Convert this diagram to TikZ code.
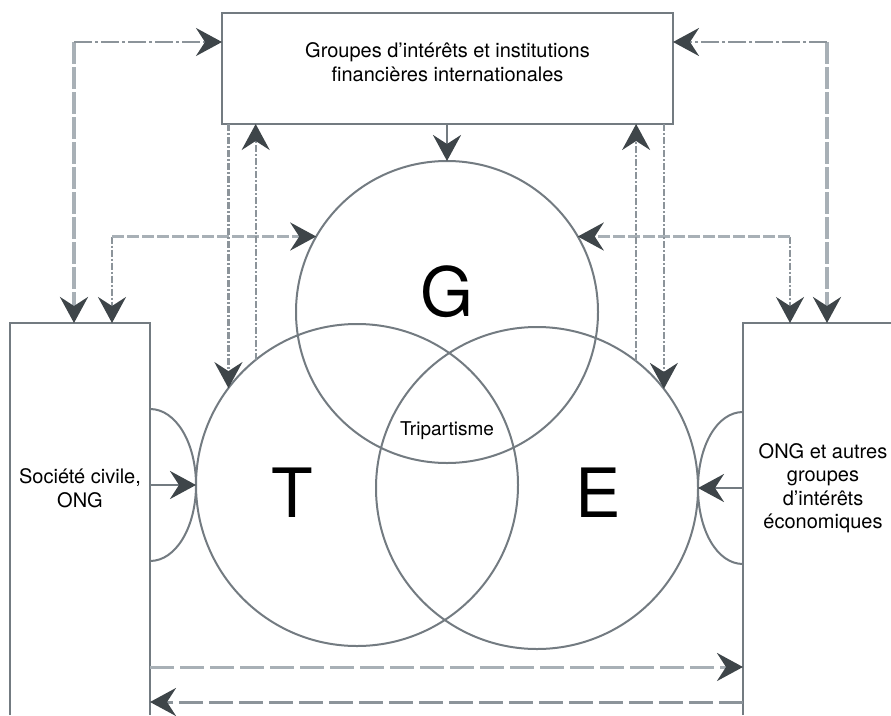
\documentclass[tikz,border=0pt]{standalone}
\usepackage{fontspec}
\setmainfont{TeX Gyre Heros}
\usetikzlibrary{arrows.meta}

\definecolor{linegray}{HTML}{737B81}
\definecolor{dashgray}{HTML}{8C949A}
\definecolor{palegray}{HTML}{A8B0B6}
\definecolor{tipgray}{HTML}{3E4549}

\tikzset{
	head/.tip={Stealth[length=26pt,width=28pt,inset=9pt,color=tipgray]},
	onehead/.style={-head},
	twoheads/.style={head-head}
}

\begin{document}
\begin{tikzpicture}[x=1pt,y=-1pt,
	frame/.style={draw=linegray,line width=2.8pt,inner sep=0pt,outer sep=0pt},
	ring/.style={circle,draw=linegray,line width=2pt,inner sep=0pt,outer sep=0pt},
	edge/.style={linegray,line width=2pt},
	solidlink/.style={linegray,line width=2.8pt},
	palelink/.style={palegray,line width=3.6pt,dash pattern=on 22pt off 3pt},
	dotlink/.style={dashgray,line width=2.6pt,dash pattern=on 18pt off 3pt on 3pt off 3pt},
	midlink/.style={palegray,line width=3.2pt,dash pattern=on 12pt off 3pt},
	finelink/.style={dashgray,line width=2.2pt,dash pattern=on 7pt off 2pt on 2pt off 2pt},
	baselink/.style={palegray,line width=3pt,dash pattern=on 24pt off 6pt},
	caption/.style={align=center,font=\fontsize{20}{23.5}\selectfont},
	letter/.style={font=\fontsize{68}{68}\selectfont}]
	\useasboundingbox (0,0) rectangle (891,715);

	% boxes
	\node[frame,minimum width=451pt,minimum height=111pt] (igo) at (447.5,68.5) {};
	\node[caption] (igo-text) at (447.5,62) {Groupes d’intérêts et institutions\\financières internationales};
	\coordinate (sc-nw) at (10,323);
	\coordinate (sc-ne) at (150,323);
	\coordinate (ong-nw) at (743,323);
	\draw[frame] (sc-nw |- 0,715) -- (sc-nw) -- (sc-ne) -- (sc-ne |- 0,715);
	\draw[frame] (ong-nw |- 0,715) -- (ong-nw) -- (891,323);
	\node[caption] (sc) at (80,488) {Société civile,\\ONG};
	\node[caption] (ong) at (823,488) {ONG et autres\\groupes\\d’intérêts\\économiques};

	% circles
	\node[ring,minimum size=302pt] (G) at (447,312) {};
	\node[ring,minimum size=322pt] (T) at (357,485) {};
	\node[ring,minimum size=322pt] (E) at (537,488) {};
	\node[letter] (g-text) at (447,292) {G};
	\node[letter] (t-text) at (292,493) {T};
	\node[letter] (e-text) at (598,493) {E};
	\node[font=\fontsize{19}{19}\selectfont] (tri) at (447,431) {Tripartisme};

	% side arcs
	\draw[edge] (sc-ne |- 0,409) .. controls +(26,0) and +(0,-42) .. (T.west)
		.. controls +(0,42) and +(26,0) .. (sc-ne |- 0,561);
	\draw[edge] (ong-nw |- 0,412) .. controls +(-26,0) and +(0,-42) .. (E.east)
		.. controls +(0,42) and +(-26,0) .. (ong-nw |- 0,564);

	% solid arrows
	\draw[solidlink,onehead] (igo.south -| G.north) -- (G.north);
	\draw[solidlink,onehead] (sc-ne |- T.west) -- (T.west);
	\draw[solidlink,onehead] (ong-nw |- E.east) -- (E.east);

	% dashed links
	\coordinate (sc-p1) at (74,323);
	\coordinate (sc-p2) at (112,323);
	\coordinate (ong-p1) at (790,323);
	\coordinate (ong-p2) at (827,323);
	\coordinate (sc-c1) at (sc-p1 |- 0,42);
	\coordinate (ong-c2) at (ong-p2 |- 0,42);
	\coordinate (sc-c2) at (sc-p2 |- G.150);
	\coordinate (ong-c1) at (ong-p1 |- G.30);
	\draw[palelink,onehead] (sc-c1) -- (sc-p1);
	\draw[dotlink,onehead] (sc-c1) -- (igo.west |- sc-c1);
	\draw[palelink,onehead] (ong-c2) -- (ong-p2);
	\draw[dotlink,onehead] (ong-c2) -- (igo.east |- ong-c2);
	\draw[finelink,onehead] (sc-c2) -- (sc-p2);
	\draw[midlink,onehead] (sc-c2) -- (G.150);
	\draw[finelink,onehead] (ong-c1) -- (ong-p1);
	\draw[midlink,onehead] (ong-c1) -- (G.30);
	\draw[finelink,onehead] (igo.south -| T.143) -- (T.143);
	\draw[finelink,onehead] (T.129) -- (T.129 |- igo.south);
	\draw[finelink,onehead] (E.52) -- (E.52 |- igo.south);
	\draw[finelink,onehead] (igo.south -| E.38) -- (E.38);
	\draw[baselink,onehead] (sc-ne |- 0,667) -- (ong-nw |- 0,667);
	\draw[baselink,dashgray,onehead] (ong-nw |- 0,702) -- (sc-ne |- 0,702);
\end{tikzpicture}
\end{document}
